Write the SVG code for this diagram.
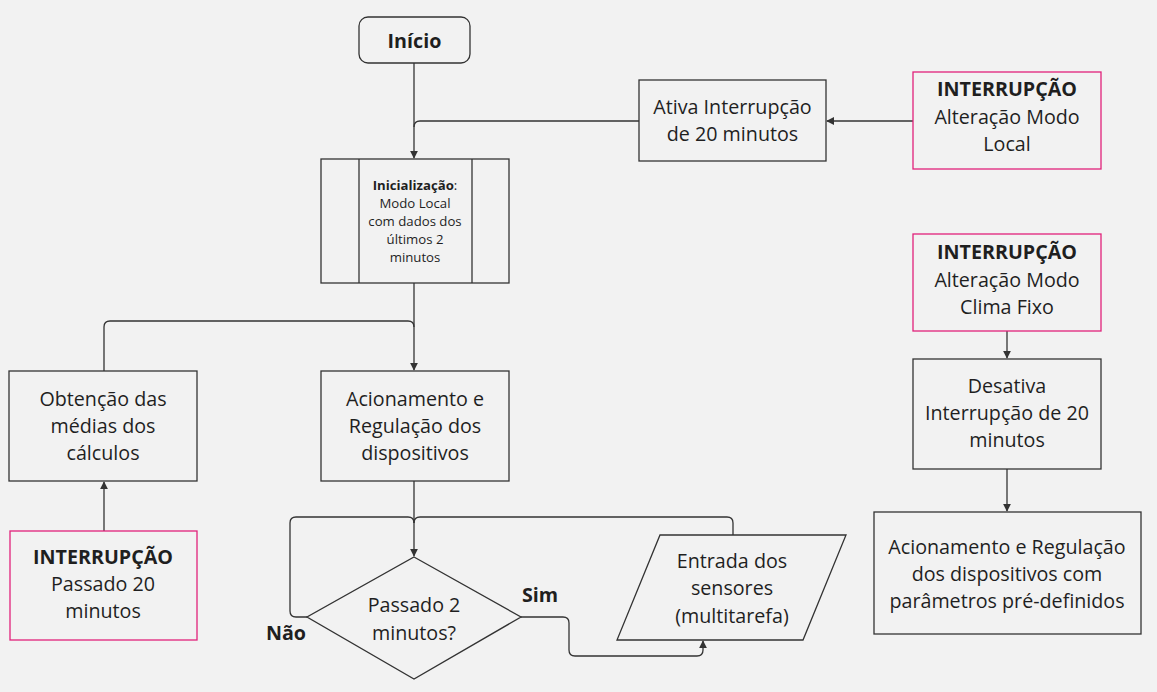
<svg xmlns="http://www.w3.org/2000/svg" width="1157" height="692" viewBox="0 0 1157 692">
<defs>
<marker id="ah" viewBox="0 0 10 10" refX="9" refY="5" markerWidth="8" markerHeight="8" markerUnits="userSpaceOnUse" orient="auto">
<path d="M0,0 L10,5 L0,10 z" fill="#333"/>
</marker>
<style>
.bg{fill:#f2f2f2}
.box{fill:#f2f2f2;stroke:#333;stroke-width:1.3}
.pink{fill:#f2f2f2;stroke:#e0217a;stroke-width:1.3}
.t{font-family:"Open Sans","Noto Sans",sans-serif;font-size:19.7px;fill:#1f1f1f;text-anchor:middle}
.b{font-weight:bold}
.s{font-size:13.2px}
.c{fill:none;stroke:#333;stroke-width:1.3}
</style>
</defs>
<rect class="bg" x="0" y="0" width="1157" height="692"/>
<g id="connectors">
<path class="c" d="M414,63 V158" marker-end="url(#ah)"/>
<path class="c" d="M639,121 H420 Q414,121 414,127"/>
<path class="c" d="M913,121 H827" marker-end="url(#ah)"/>
<path class="c" d="M414,283 V370" marker-end="url(#ah)"/>
<path class="c" d="M104,371 V327 Q104,321 110,321 H408 Q414,321 414,327"/>
<path class="c" d="M104,531 V482" marker-end="url(#ah)"/>
<path class="c" d="M414,481 V556" marker-end="url(#ah)"/>
<path class="c" d="M307,617 H296 Q290,617 290,611 V523 Q290,517 296,517 H408 Q414,517 414,523"/>
<path class="c" d="M733,535 V523 Q733,517 727,517 H420 Q414,517 414,523"/>
<path class="c" d="M521,617 H563 Q569,617 569,623 V650 Q569,656 575,656 H697 Q703,656 703,650 V641" marker-end="url(#ah)"/>
<path class="c" d="M1007,331 V358" marker-end="url(#ah)"/>
<path class="c" d="M1007,469 V511" marker-end="url(#ah)"/>
</g>
<g id="inicio">
<rect class="box" x="359" y="17" width="111" height="46" rx="9"/>
<text class="t b" x="414.5" y="48">Início</text>
</g>
<g id="ativa">
<rect class="box" x="639" y="80" width="187" height="81"/>
<text class="t" x="732.5" y="114">Ativa Interrupção</text>
<text class="t" x="732.5" y="141">de 20 minutos</text>
</g>
<g id="int-local">
<rect class="pink" x="913" y="72" width="188" height="97"/>
<text class="t b" x="1007" y="96">INTERRUPÇÃO</text>
<text class="t" x="1007" y="124">Alteração Modo</text>
<text class="t" x="1007" y="151">Local</text>
</g>
<g id="inicializacao">
<rect class="box" x="321" y="159" width="188" height="124"/>
<line class="c" x1="359" y1="159" x2="359" y2="283"/>
<line class="c" x1="472" y1="159" x2="472" y2="283"/>
<text class="t s" x="415" y="190"><tspan class="b">Inicialização</tspan>:</text>
<text class="t s" x="415" y="208">Modo Local</text>
<text class="t s" x="415" y="226">com dados dos</text>
<text class="t s" x="415" y="244">últimos 2</text>
<text class="t s" x="415" y="262">minutos</text>
</g>
<g id="obtencao">
<rect class="box" x="9" y="371" width="188" height="110"/>
<text class="t" x="103" y="406">Obtenção das</text>
<text class="t" x="103" y="433">médias dos</text>
<text class="t" x="103" y="460">cálculos</text>
</g>
<g id="acionamento">
<rect class="box" x="321" y="371" width="188" height="110"/>
<text class="t" x="415" y="406">Acionamento e</text>
<text class="t" x="415" y="433">Regulação dos</text>
<text class="t" x="415" y="460">dispositivos</text>
</g>
<g id="int-passado">
<rect class="pink" x="10" y="531" width="187" height="109"/>
<text class="t b" x="103" y="564">INTERRUPÇÃO</text>
<text class="t" x="103" y="591">Passado 20</text>
<text class="t" x="103" y="618">minutos</text>
</g>
<g id="decisao">
<polygon class="box" points="414,557 521,617 414,679 307,617"/>
<text class="t" x="414" y="612">Passado 2</text>
<text class="t" x="414" y="640">minutos?</text>
<text class="t b" x="540" y="602">Sim</text>
<text class="t b" x="286" y="640">Não</text>
</g>
<g id="entrada">
<polygon class="box" points="660,535 846,535 803,640 617,640"/>
<text class="t" x="732" y="568">Entrada dos</text>
<text class="t" x="732" y="595">sensores</text>
<text class="t" x="732" y="623">(multitarefa)</text>
</g>
<g id="int-clima">
<rect class="pink" x="913" y="234" width="188" height="97"/>
<text class="t b" x="1007" y="259">INTERRUPÇÃO</text>
<text class="t" x="1007" y="287">Alteração Modo</text>
<text class="t" x="1007" y="314">Clima Fixo</text>
</g>
<g id="desativa">
<rect class="box" x="913" y="359" width="188" height="110"/>
<text class="t" x="1007" y="393">Desativa</text>
<text class="t" x="1007" y="420">Interrupção de 20</text>
<text class="t" x="1007" y="447">minutos</text>
</g>
<g id="final">
<rect class="box" x="874" y="512" width="267" height="122"/>
<text class="t" x="1007" y="554">Acionamento e Regulação</text>
<text class="t" x="1007" y="581">dos dispositivos com</text>
<text class="t" x="1007" y="608">parâmetros pré-definidos</text>
</g>
</svg>
